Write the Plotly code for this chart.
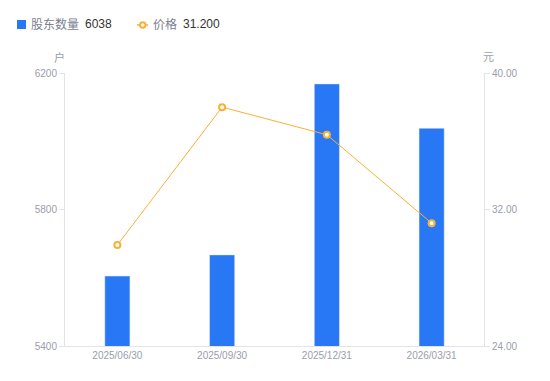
import plotly.graph_objects as go

categories = ["2025/06/30", "2025/09/30", "2025/12/31", "2026/03/31"]
holders = [5605, 5667, 6168, 6038]
prices = [29.92, 38.0, 36.38, 31.2]
left_ticks = [5400, 5800, 6200]
right_ticks = [24, 32, 40]

BLUE = "#2878F6"
ORANGE = "#F8B133"
GRAY = "#9A9DAB"
AXIS = "#E3E4E8"
FONT = "Liberation Sans, Noto Sans CJK SC, sans-serif"

# page body has an 8px margin; size the figure so it fits the window
OFF = 8
W, H = 550 - OFF, 381 - OFF
PL, PR, PT, PB = 65, 484, 73, 346  # plot area in window pixels
ML, MR, MT, MB = PL - OFF, W - (PR - OFF), PT - OFF, H - (PB - OFF)

fig = go.Figure()
fig.add_trace(go.Bar(x=categories, y=holders, marker_color=BLUE, width=0.24,
                     name="股东数量", showlegend=False))
fig.add_trace(go.Scatter(x=categories, y=prices, yaxis="y2", mode="lines+markers",
                         line=dict(color=ORANGE, width=1),
                         marker=dict(symbol="circle", size=6, color="white",
                                     line=dict(color=ORANGE, width=2)),
                         name="价格", showlegend=False))

fig.update_layout(
    width=W, height=H,
    margin=dict(l=ML, r=MR, t=MT, b=MB, autoexpand=False),
    plot_bgcolor="white", paper_bgcolor="white",
    font=dict(family=FONT, size=11, color=GRAY),
    xaxis=dict(showgrid=False, showline=True, linecolor=AXIS, linewidth=1,
               ticks="", tickfont=dict(size=10, color=GRAY), fixedrange=True),
    yaxis=dict(range=[5400, 6200], tickvals=left_ticks, ticktext=[str(v) for v in left_ticks],
               showgrid=False, zeroline=False, showline=True, linecolor=AXIS,
               ticks="outside", ticklen=5, tickcolor=AXIS,
               tickfont=dict(size=10, color=GRAY)),
    yaxis2=dict(range=[24, 40], tickvals=right_ticks, ticktext=[f"{v:.2f}" for v in right_ticks],
                overlaying="y", side="right", showgrid=False, zeroline=False,
                showline=True, linecolor=AXIS, ticks="outside", ticklen=5, tickcolor=AXIS,
                tickfont=dict(size=10, color=GRAY)),
)


def px_x(px):
    return (px - PL) / (PR - PL)


def px_y(py):
    return (PB - py) / (PB - PT)


def label(xp, yp, text, size, color, xanchor="center"):
    fig.add_annotation(x=px_x(xp), y=px_y(yp), xref="paper", yref="paper", text=text,
                       xanchor=xanchor, yanchor="middle", showarrow=False, borderpad=0,
                       font=dict(size=size, color=color))


label(59, 57, "户", 11, GRAY)
label(489, 57, "元", 11, GRAY)

fig.add_shape(type="rect", xref="paper", yref="paper",
              x0=px_x(17), x1=px_x(26), y0=px_y(29), y1=px_y(20),
              fillcolor=BLUE, line=dict(width=0))
label(30, 24.5, "股东数量", 12, "#7D8090", "left")
label(84, 24.5, f"{holders[-1]}", 12, "#333333", "left")

fig.add_shape(type="line", xref="paper", yref="paper",
              x0=px_x(137), x1=px_x(148), y0=px_y(25), y1=px_y(25),
              line=dict(color=ORANGE, width=1.5))
fig.add_shape(type="circle", xref="paper", yref="paper",
              x0=px_x(140), x1=px_x(145.5), y0=px_y(27.7), y1=px_y(22.3),
              fillcolor="white", line=dict(color=ORANGE, width=2))
label(152, 24.5, "价格", 12, "#7D8090", "left")
label(182, 24.5, f"{prices[-1]:.3f}", 12, "#333333", "left")

fig.write_html("out.html")
